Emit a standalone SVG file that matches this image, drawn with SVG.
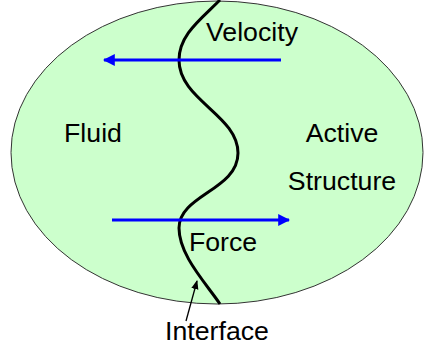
<svg xmlns="http://www.w3.org/2000/svg" width="424" height="353" viewBox="0 0 424 353">
<style>
text{font-family:"Liberation Sans",Arial,sans-serif;font-size:26.7px;fill:#000;text-anchor:middle}
.blue{stroke:#0000FF;stroke-width:3;fill:none}
</style>
<defs>
<marker id="bh" viewBox="0 0 10 10" refX="9" refY="5" markerWidth="4" markerHeight="4" markerUnits="strokeWidth" orient="auto"><path d="M0,0L10,5L0,10z" fill="#0000FF"/></marker>
<marker id="kh" viewBox="0 0 10 10" refX="9" refY="5" markerWidth="7" markerHeight="7" markerUnits="strokeWidth" orient="auto"><path d="M0,1L10,5L0,9z" fill="#000"/></marker>
</defs>
<g id="domain">
<ellipse cx="217" cy="152.5" rx="206" ry="151.5" fill="#CCFFCC" stroke="#333" stroke-width="1"/>
</g>
<g id="interface-curve">
<path d="M220,0 C200,20 179,35 179,60 C179,100 238,115 238,153 C238,190 179,195 179,228 C179,255 205,282 220,304" fill="none" stroke="#000" stroke-width="3"/>
</g>
<g id="fluid"><text x="93" y="142">Fluid</text></g>
<g id="structure"><text x="342" y="142">Active</text><text x="342" y="190">Structure</text></g>
<g id="velocity-label"><text x="252" y="41">Velocity</text></g>
<g id="force-label"><text x="223" y="251">Force</text></g>
<g id="interface-label"><text x="217" y="340">Interface</text></g>
<g id="connectors">
<line class="blue" x1="281" y1="60" x2="104" y2="60" marker-end="url(#bh)"/>
<line class="blue" x1="112" y1="220" x2="289" y2="220" marker-end="url(#bh)"/>
<line x1="186" y1="321" x2="197" y2="281" stroke="#000" stroke-width="1.3" marker-end="url(#kh)"/>
</g>
</svg>
